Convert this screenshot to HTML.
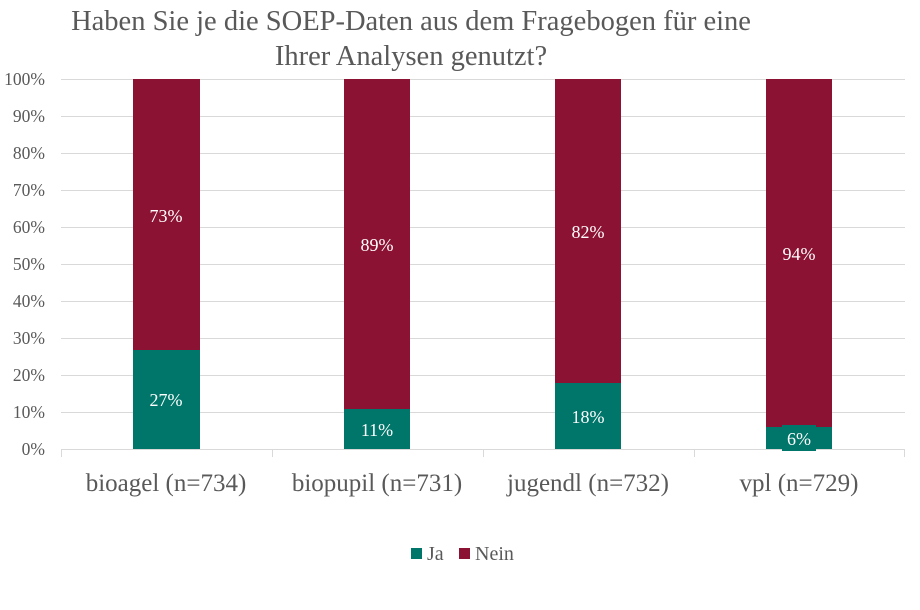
<!DOCTYPE html>
<html><head><meta charset="utf-8"><style>body{margin:0;background:#fff}</style></head><body>
<svg width="920" height="605" xmlns="http://www.w3.org/2000/svg" font-family="Liberation Serif, serif">
<rect width="920" height="605" fill="#fff"/>
<text x="411" y="30" font-size="28.5" fill="#595959" text-anchor="middle">Haben Sie je die SOEP-Daten aus dem Fragebogen für eine</text>
<text x="411" y="65" font-size="28.5" fill="#595959" text-anchor="middle">Ihrer Analysen genutzt?</text>
<g stroke="#d9d9d9" stroke-width="1">
<line x1="61" x2="905" y1="79.5" y2="79.5"/><line x1="61" x2="905" y1="116.5" y2="116.5"/>
<line x1="61" x2="905" y1="153.5" y2="153.5"/><line x1="61" x2="905" y1="190.5" y2="190.5"/>
<line x1="61" x2="905" y1="227.5" y2="227.5"/><line x1="61" x2="905" y1="264.5" y2="264.5"/>
<line x1="61" x2="905" y1="301.5" y2="301.5"/><line x1="61" x2="905" y1="338.5" y2="338.5"/>
<line x1="61" x2="905" y1="375.5" y2="375.5"/><line x1="61" x2="905" y1="412.5" y2="412.5"/>
<line x1="61" x2="905" y1="449.5" y2="449.5"/>
<line x1="61.5" x2="61.5" y1="449" y2="457"/><line x1="272.5" x2="272.5" y1="449" y2="457"/>
<line x1="483.5" x2="483.5" y1="449" y2="457"/><line x1="694.5" x2="694.5" y1="449" y2="457"/>
<line x1="904.5" x2="904.5" y1="449" y2="457"/>
</g>
<g font-size="17.5" fill="#595959" text-anchor="end">
<text x="45" y="85">100%</text><text x="45" y="122">90%</text><text x="45" y="159">80%</text>
<text x="45" y="196">70%</text><text x="45" y="233">60%</text><text x="45" y="270">50%</text>
<text x="45" y="307">40%</text><text x="45" y="344">30%</text><text x="45" y="381">20%</text>
<text x="45" y="418">10%</text><text x="45" y="455">0%</text>
</g>
<g>
<rect x="133" y="79" width="67" height="271" fill="#8B1232"/><rect x="133" y="350" width="67" height="99" fill="#00766A"/>
<rect x="344" y="79" width="66" height="330" fill="#8B1232"/><rect x="344" y="409" width="66" height="40" fill="#00766A"/>
<rect x="555" y="79" width="66" height="304" fill="#8B1232"/><rect x="555" y="383" width="66" height="66" fill="#00766A"/>
<rect x="766" y="79" width="66" height="348" fill="#8B1232"/><rect x="766" y="427" width="66" height="22" fill="#00766A"/>
<rect x="782" y="425" width="34" height="26" fill="#00766A"/>
</g>
<g font-size="18" fill="#fff" text-anchor="middle">
<text x="166" y="222">73%</text><text x="166" y="406">27%</text>
<text x="377" y="251">89%</text><text x="377" y="436">11%</text>
<text x="588" y="238">82%</text><text x="588" y="423">18%</text>
<text x="799" y="260">94%</text><text x="799" y="445">6%</text>
</g>
<g font-size="25" fill="#595959" text-anchor="middle">
<text x="166" y="491">bioagel (n=734)</text><text x="377" y="491">biopupil (n=731)</text>
<text x="588" y="491">jugendl (n=732)</text><text x="799" y="491">vpl (n=729)</text>
</g>
<rect x="411" y="548" width="11" height="11" fill="#00766A"/>
<text x="427" y="560" font-size="20" fill="#595959">Ja</text>
<rect x="459" y="548" width="11" height="11" fill="#8B1232"/>
<text x="475" y="560" font-size="20" fill="#595959">Nein</text>
</svg>
</body></html>
